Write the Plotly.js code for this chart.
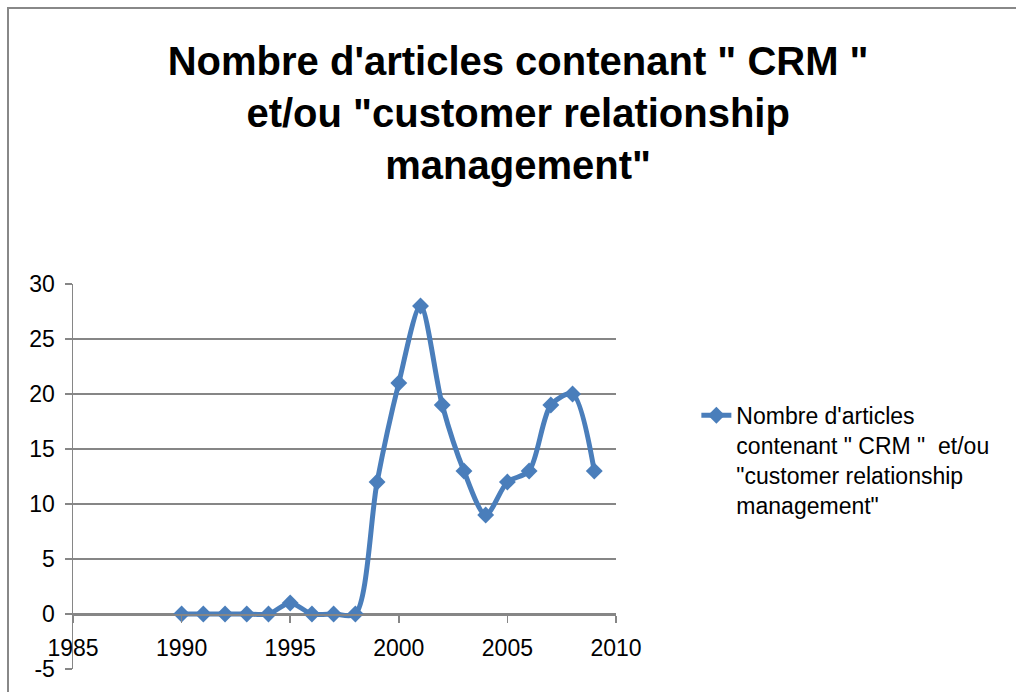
<!DOCTYPE html>
<html>
<head>
<meta charset="utf-8">
<script src="https://cdn.plot.ly/plotly-3.0.1.min.js"></script>
<style>
html,body{margin:0;padding:0;background:#fff;overflow:hidden;}
#frame{position:absolute;left:7px;top:7px;width:1100px;height:800px;border:2px solid #888;box-sizing:border-box;}
#chart{position:absolute;left:0;top:0;width:1016px;height:692px;}
</style>
</head>
<body>
<div id="frame"></div>
<div id="chart"></div>
<script>
const years = [1990,1991,1992,1993,1994,1995,1996,1997,1998,1999,2000,2001,2002,2003,2004,2005,2006,2007,2008,2009];
const articles = [0,0,0,0,0,1,0,0,0,12,21,28,19,13,9,12,13,19,20,13];
const seriesName = "Nombre d'articles<br>contenant \" CRM \"  et/ou<br>\"customer relationship<br>management\"";
const chartTitle = "Nombre d'articles contenant \" CRM \"<br>et/ou \"customer relationship<br>management\"";
const xTicks = [1985,1990,1995,2000,2005,2010];
const yTicks = [-5,0,5,10,15,20,25,30];

const trace = {
  x: years, y: articles, type: 'scatter', mode: 'lines+markers',
  name: seriesName,
  line: {color: '#4a7ebb', width: 5, shape: 'spline', smoothing: 0.8},
  marker: {symbol: 'diamond', size: 13, color: '#4a7ebb'}
};

const layout = {
  width: 1016, height: 692,
  paper_bgcolor: 'rgba(0,0,0,0)', plot_bgcolor: 'rgba(0,0,0,0)',
  margin: {l: 73, r: 400, t: 284, b: 23},
  font: {family: 'Liberation Sans, Arial, sans-serif', color: '#000'},
  title: {
    text: chartTitle,
    font: {family: 'Liberation Sans, Arial, sans-serif', size: 40, color: '#000', weight: 'bold'},
    x: 0.51, xref: 'container', xanchor: 'center',
    y: 1 - 75/692, yref: 'container', yanchor: 'top'
  },
  showlegend: true,
  legend: {
    x: 1.148, xanchor: 'left', y: 0.715, yanchor: 'top',
    valign: 'top', bgcolor: 'rgba(0,0,0,0)',
    font: {family: 'Liberation Sans, Arial, sans-serif', size: 23, color: '#000'}
  },
  xaxis: {
    range: [1985, 2010], tickvals: xTicks, ticktext: xTicks.map(String),
    showgrid: false, zeroline: false,
    showline: true, linecolor: '#868686', linewidth: 1.5,
    ticks: 'outside', ticklen: 7, tickcolor: '#868686', tickwidth: 1.5,
    anchor: 'free', position: 5/35, ticklabelstandoff: 6,
    tickfont: {size: 23, color: '#000'}
  },
  yaxis: {
    range: [-5, 30], tickvals: yTicks, ticktext: yTicks.map(String),
    showgrid: true, gridcolor: '#868686', gridwidth: 1.5, zeroline: false,
    showline: true, linecolor: '#868686', linewidth: 1.5,
    ticks: 'outside', ticklen: 7, tickcolor: '#868686', tickwidth: 1.5,
    ticklabelstandoff: 5,
    tickfont: {size: 23, color: '#000'}, domain: [0, 1]
  }
};

Plotly.newPlot('chart', [trace], layout, {displayModeBar: false, staticPlot: true});
</script>
</body>
</html>
